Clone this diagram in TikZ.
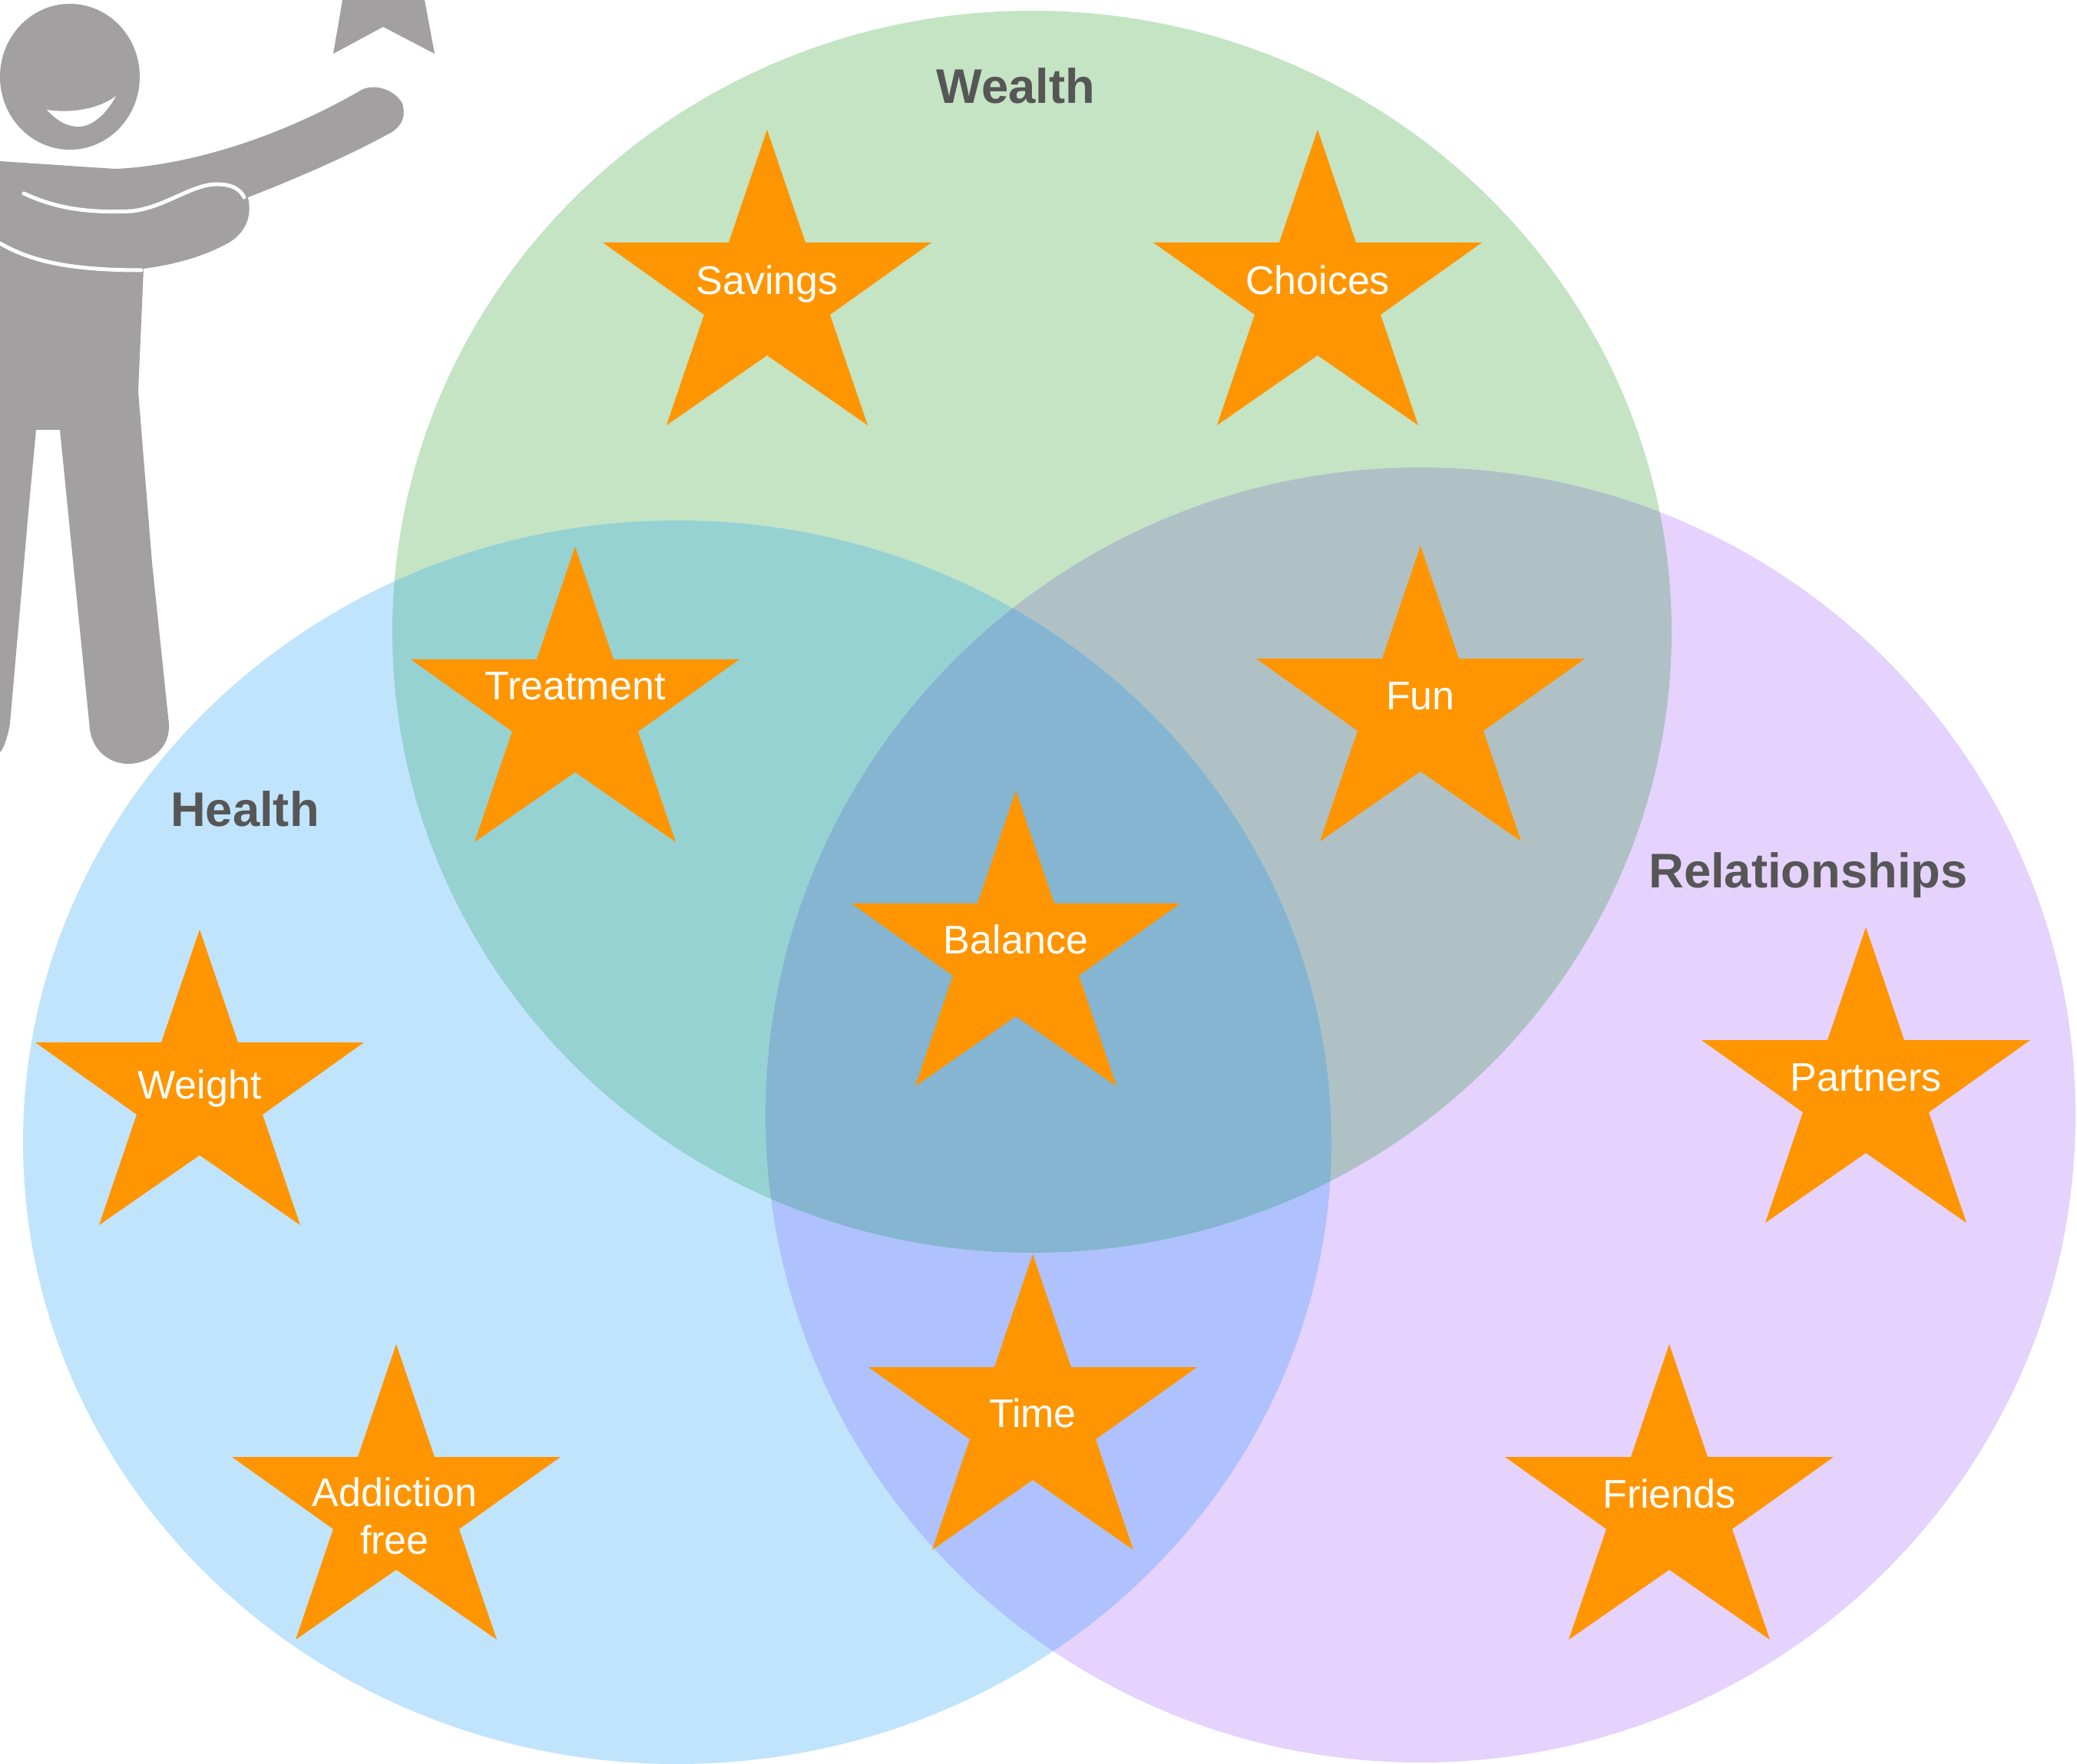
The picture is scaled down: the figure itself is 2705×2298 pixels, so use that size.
\documentclass[tikz,border=0pt]{standalone}
\usepackage{fontspec}
\setmainfont{Liberation Sans}
\usepackage{tikz}
\definecolor{wealthgreen}{HTML}{C4E4C4}
\definecolor{healthblue}{HTML}{C1E4FD}
\definecolor{relpurple}{HTML}{E5D2FD}
\definecolor{wealthhealth}{HTML}{97D2D2}
\definecolor{wealthrel}{HTML}{AFC1C5}
\definecolor{healthrel}{HTML}{AFC2FD}
\definecolor{allthree}{HTML}{85B5D0}
\definecolor{starorange}{HTML}{FF9500}
\definecolor{persongray}{HTML}{A2A0A1}
\definecolor{titlegray}{HTML}{565656}

\def\wealthc{(1344,823) ellipse [x radius=833,y radius=809]}
\def\healthc{(882,1488) ellipse [x radius=852,y radius=810]}
\def\relc{(1850,1452.5) ellipse [x radius=853,y radius=843.5]}

\begin{document}
\begin{tikzpicture}[x=0.01cm,y=-0.01cm,
    starlabel/.style={text=white,font=\fontsize{14.8}{17.7}\selectfont,align=center,inner sep=0pt},
    circletitle/.style={text=titlegray,font=\fontsize{18}{21}\selectfont\bfseries,inner sep=0pt},
    starpic/.pic={\fill[starorange] (0,0) -- (50,147) -- (214,147) -- (82,241) -- (131,385) -- (0,294) -- (-131,385) -- (-82,241) -- (-214,147) -- (-50,147) -- cycle;},
    personpart/.style={fill=persongray},
    personline/.style={draw=white,line width=0.05cm,line cap=round}]
\useasboundingbox (0,0) rectangle (2705,2298);
% person
\fill[personpart] (91,100) ellipse [x radius=91,y radius=95];
\fill[white] (61,143) .. controls (85,147) and (125,145) .. (151,125) .. controls (135,155) and (115,165) .. (103,165) .. controls (85,165) and (72,155) .. (61,143) -- cycle;
\fill[personpart] (434,70) -- (446,0) -- (553,0) -- (566,70) -- (499,35) -- cycle;
\fill[personpart] (0,210) -- (150,220) .. controls (260,215) and (380,170) .. (471,117) .. controls (490,108) and (515,118) .. (524,135) .. controls (530,155) and (520,168) .. (505,175) .. controls (450,205) and (380,235) .. (323,257) .. controls (328,280) and (322,300) .. (300,315) .. controls (265,335) and (225,345) .. (187,350) -- (180,510) -- (198,733) -- (220,943) .. controls (222,975) and (195,995) .. (167,995) .. controls (140,995) and (120,975) .. (117,950) -- (78,560) -- (47,560) -- (37,667) -- (13,943) .. controls (10,960) and (5,975) .. (0,980) -- cycle;
\draw[personline] (31,252) .. controls (70,270) and (110,278) .. (172,275) .. controls (215,270) and (250,240) .. (282,240) .. controls (300,240) and (312,245) .. (318,257);
\draw[personline] (0,317) .. controls (40,340) and (90,352) .. (184,352);
% circles
\fill[wealthgreen] \wealthc;
\fill[healthblue] \healthc;
\fill[relpurple] \relc;
\begin{scope}
    \clip \wealthc;
    \fill[wealthhealth] \healthc;
    \fill[wealthrel] \relc;
\end{scope}
\begin{scope}
    \clip \healthc;
    \fill[healthrel] \relc;
    \clip \relc;
    \fill[allthree] \wealthc;
\end{scope}
% stars
\pic (savingsstar) at (999,169) {starpic};
\pic (choicesstar) at (1716,169) {starpic};
\pic (treatmentstar) at (749,712) {starpic};
\pic (funstar) at (1850,711) {starpic};
\pic (balancestar) at (1323,1030) {starpic};
\pic (weightstar) at (260,1211) {starpic};
\pic (partnersstar) at (2430,1208) {starpic};
\pic (addictionstar) at (516,1751) {starpic};
\pic (timestar) at (1345,1634) {starpic};
\pic (friendsstar) at (2174,1751) {starpic};
\node[starlabel] (savings) at (999,370) {Savings};
\node[starlabel] (choices) at (1716,365) {Choices};
\node[starlabel] (treatment) at (749,894) {Treatment};
\node[starlabel] (fun) at (1850,907) {Fun};
\node[starlabel] (balance) at (1323,1224) {Balance};
\node[starlabel] (weight) at (260,1418) {Weight};
\node[starlabel] (partners) at (2430,1404) {Partners};
\node[starlabel] (addiction) at (514,1975) {Addiction\\free};
\node[starlabel] (time) at (1345,1841) {Time};
\node[starlabel] (friends) at (2174,1946) {Friends};
% titles
\node[circletitle] (wealth) at (1323,112) {Wealth};
\node[circletitle] (health) at (319,1054) {Health};
\node[circletitle] (relationships) at (2355,1140) {Relationships};
\end{tikzpicture}
\end{document}
